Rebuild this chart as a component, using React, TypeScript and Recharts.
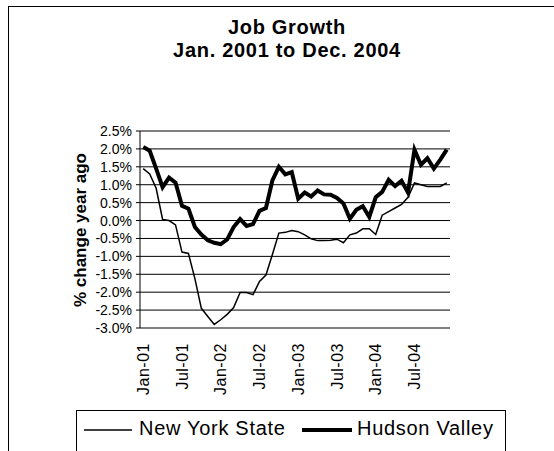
import { CartesianGrid, Line, LineChart, XAxis, YAxis } from "recharts"

const months = [
    "Jan-01", "Feb-01", "Mar-01", "Apr-01", "May-01", "Jun-01", "Jul-01", "Aug-01", "Sep-01", "Oct-01", "Nov-01", "Dec-01",
    "Jan-02", "Feb-02", "Mar-02", "Apr-02", "May-02", "Jun-02", "Jul-02", "Aug-02", "Sep-02", "Oct-02", "Nov-02", "Dec-02",
    "Jan-03", "Feb-03", "Mar-03", "Apr-03", "May-03", "Jun-03", "Jul-03", "Aug-03", "Sep-03", "Oct-03", "Nov-03", "Dec-03",
    "Jan-04", "Feb-04", "Mar-04", "Apr-04", "May-04", "Jun-04", "Jul-04", "Aug-04", "Sep-04", "Oct-04", "Nov-04", "Dec-04",
]

// % change year ago
const newYorkState = [
    1.45, 1.3, 0.9, 0.03, 0.0, -0.12, -0.88, -0.92, -1.62, -2.45, -2.68, -2.9,
    -2.77, -2.62, -2.43, -2.01, -2.01, -2.07, -1.7, -1.52, -0.95, -0.35, -0.33, -0.28,
    -0.31, -0.4, -0.51, -0.56, -0.56, -0.55, -0.52, -0.62, -0.4, -0.35, -0.23, -0.23,
    -0.39, 0.15, 0.25, 0.35, 0.45, 0.65, 1.05, 1.0, 0.95, 0.95, 0.95, 1.05,
]

const hudsonValley = [
    2.05, 1.95, 1.45, 0.93, 1.2, 1.06, 0.41, 0.33, -0.18, -0.39, -0.55, -0.62,
    -0.66, -0.53, -0.18, 0.04, -0.15, -0.1, 0.27, 0.35, 1.12, 1.5, 1.29, 1.35,
    0.61, 0.78, 0.67, 0.84, 0.73, 0.72, 0.63, 0.48, 0.05, 0.3, 0.4, 0.1,
    0.65, 0.8, 1.14, 0.96, 1.11, 0.78, 1.98, 1.56, 1.74, 1.45, 1.7, 1.98,
]

const yTicks = [-3, -2.5, -2, -1.5, -1, -0.5, 0, 0.5, 1, 1.5, 2, 2.5]

const data = months.map((month, i) => ({
    month,
    nys: newYorkState[i],
    hv: hudsonValley[i],
}))

const font = "'Liberation Sans', Arial, sans-serif"

const XTick = ({ x, y, payload }: any) => (
    <text
        x={x}
        y={y}
        transform={`rotate(-90, ${x}, ${y})`}
        textAnchor="end"
        dy="0.35em"
        fontSize={16}
        letterSpacing={0.5}
        fontFamily={font}
        fill="#000"
    >
        {payload.value}
    </text>
)

export default function App() {
    return (
        <div style={{ position: "absolute", left: 0, top: 0, width: 554, height: 451, overflow: "hidden", background: "#fff", fontFamily: font }}>
            {/* outer chart frame, runs off the right and bottom */}
            <div style={{ position: "absolute", left: 8, top: 6, width: 600, height: 500, border: "1px solid #000" }} />

            <div style={{ position: "absolute", left: 0, top: 16, width: 574, textAlign: "center", fontWeight: "bold", fontSize: 20, letterSpacing: 0.7, lineHeight: "23px" }}>
                <div>Job Growth</div>
                <div>Jan. 2001 to Dec. 2004</div>
            </div>

            <div style={{ position: "absolute", left: 81, top: 230, transform: "translate(-50%, -50%) rotate(-90deg)", whiteSpace: "nowrap", fontWeight: "bold", fontSize: 17 }}>
                % change year ago
            </div>

            <LineChart width={554} height={451} data={data} margin={{ top: 131, right: 104, left: 80, bottom: 63 }} style={{ position: "absolute", left: 0, top: 0 }}>
                <CartesianGrid vertical={false} stroke="#000" />
                <XAxis
                    dataKey="month"
                    interval={5}
                    height={60}
                    padding={{ left: 3.23, right: 3.23 }}
                    tickLine={false}
                    tickSize={0}
                    tickMargin={15}
                    tick={<XTick />}
                    axisLine={{ stroke: "#808080", strokeWidth: 2 }}
                />
                <YAxis
                    width={60}
                    domain={[-3, 2.5]}
                    ticks={yTicks}
                    interval={0}
                    tickFormatter={(v) => `${v.toFixed(1)}%`}
                    tickSize={4}
                    tickMargin={4}
                    tick={{ fill: "#000", fontSize: 14, fontFamily: font }}
                    tickLine={{ stroke: "#000" }}
                    axisLine={{ stroke: "#000" }}
                />
                <YAxis yAxisId="right" orientation="right" width={0} tick={false} tickLine={false} axisLine={{ stroke: "#808080", strokeWidth: 2 }} />
                <Line dataKey="nys" stroke="#000" strokeWidth={1.5} dot={false} isAnimationActive={false} />
                <Line dataKey="hv" stroke="#000" strokeWidth={4} dot={false} isAnimationActive={false} />
            </LineChart>

            <div style={{ position: "absolute", left: 76, top: 410, width: 430, height: 80, border: "1px solid #000", boxSizing: "border-box", fontSize: 20, letterSpacing: 0.7 }}>
                <svg width={430} height={40} style={{ position: "absolute", left: 0, top: 0 }}>
                    <line x1={7} x2={55} y1={19} y2={19} stroke="#000" strokeWidth={1.5} />
                    <line x1={225} x2={275} y1={19} y2={19} stroke="#000" strokeWidth={4} />
                </svg>
                <span style={{ position: "absolute", left: 62, top: 6, whiteSpace: "nowrap" }}>New York State</span>
                <span style={{ position: "absolute", left: 280, top: 6, whiteSpace: "nowrap" }}>Hudson Valley</span>
            </div>
        </div>
    )
}
